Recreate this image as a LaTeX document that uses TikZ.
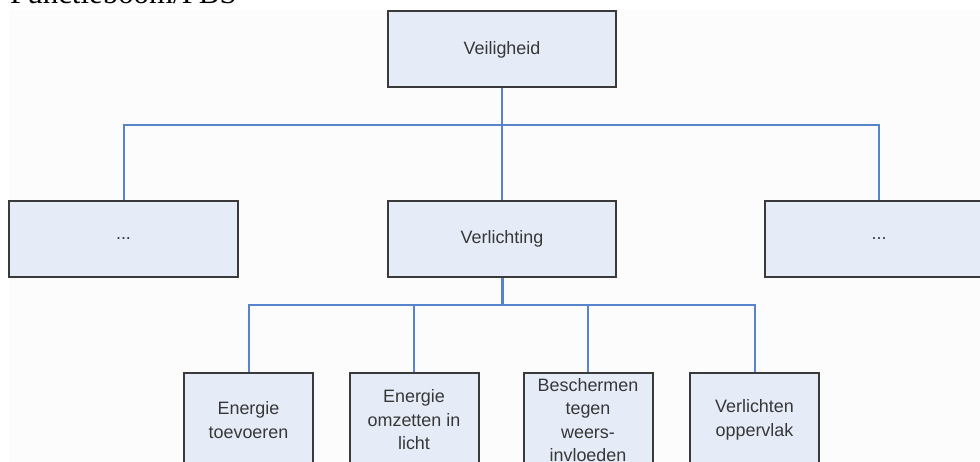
\documentclass[tikz,border=0pt]{standalone}
\usepackage{fontspec}
\newfontfamily\boxfont{Liberation Sans}
\newfontfamily\titlefont{Liberation Serif}
\definecolor{boxfill}{RGB}{230,236,247}
\definecolor{boxline}{RGB}{58,58,58}
\definecolor{linkblue}{RGB}{88,132,206}
\definecolor{paper}{RGB}{252,252,252}
\definecolor{boxtext}{RGB}{55,55,55}
\tikzset{
  fbox/.style={draw=boxline, line width=2bp, fill=boxfill, text=boxtext,
    align=center, inner sep=0pt,
    font=\boxfont\fontsize{18}{23.5}\selectfont},
  widebox/.style={fbox, minimum width=228bp, minimum height=76bp},
  leafbox/.style={fbox, minimum width=129bp, minimum height=94bp},
  conn/.style={draw=linkblue, line width=2bp},
}
\begin{document}
\begin{tikzpicture}[x=1bp, y=1bp]
\useasboundingbox (0,0) rectangle (980,-462);
\begin{scope}
\clip (0,0) rectangle (980,-462);
\fill[white] (0,0) rectangle (980,-462);
\fill[paper] (9,-10) rectangle (980,-462);

% heading, its upper part lies above the page
\node[anchor=base west, inner sep=0pt, font=\titlefont\fontsize{31}{31}\selectfont]
  (title) at (10,-4) {Functieboom/PBS};

% bus coordinates
\coordinate (busA) at (502,-125);
\coordinate (busB) at (502,-305);

% connectors
\draw[conn] (502,-87) -- (502,-201);
\draw[conn] (124,-201) |- (busA) -| (879,-201);
\draw[conn, line width=3bp] (502,-277) -- (busB);
\draw[conn] (248.5,-373) |- (busB) -| (754.5,-373);
\draw[conn] (414,-373) -- (414,-305);
\draw[conn] (588,-373) -- (588,-305);

% boxes
\node[widebox] (veil) at (502,-49.5) {Veiligheid};
\node[widebox, minimum width=229bp] (left) at (123.5,-239) {...};
\node[widebox] (verl) at (502,-239) {Verlichting};
\node[widebox] (right) at (879,-239) {...};

\node[leafbox] (b1) at (248.5,-420) {Energie\\toevoeren};
\node[leafbox] (b2) at (414,-420) {Energie\\omzetten in\\licht};
\node[leafbox] (b3) at (588,-420) {Beschermen\\tegen\\weers-\\invloeden};
\node[leafbox] (b4) at (754.5,-420) {Verlichten\\oppervlak};
\end{scope}
\end{tikzpicture}
\end{document}
